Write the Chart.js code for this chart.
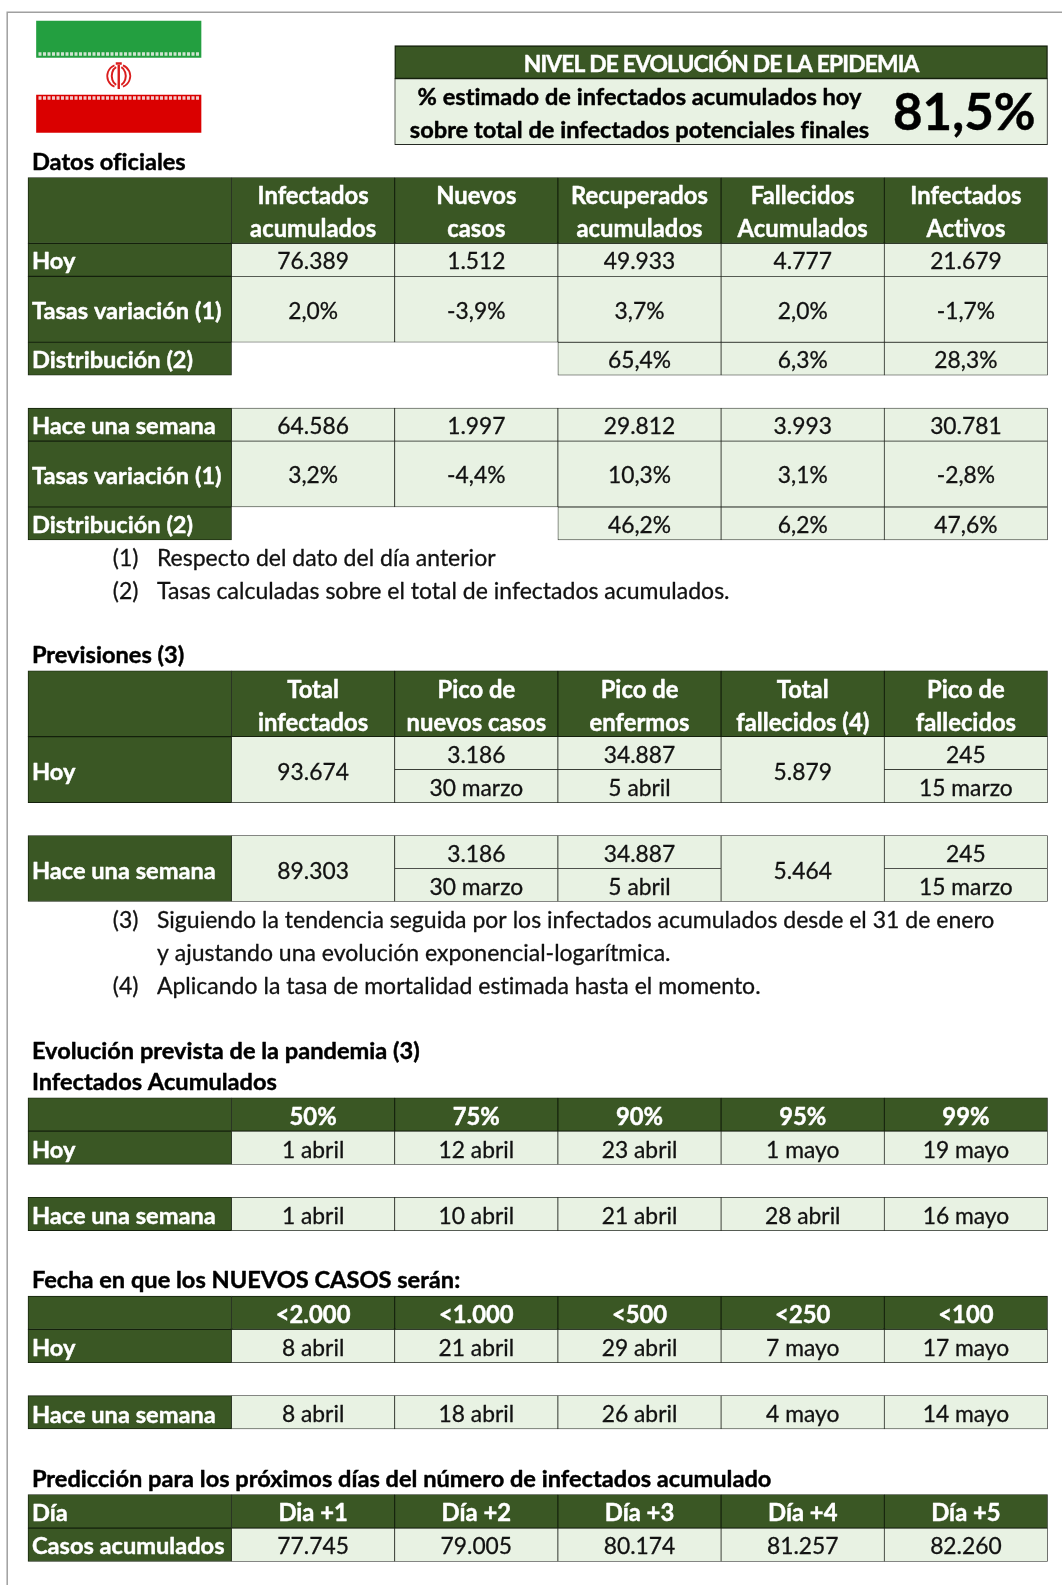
<!DOCTYPE html>
<html lang="es"><head><meta charset="utf-8">
<script src="https://cdn.jsdelivr.net/npm/chart.js@4/dist/chart.umd.js"></script>
<style>html,body{margin:0;padding:0;background:#fff}canvas{display:block;filter:blur(.35px)}</style>
</head><body><canvas id="c" width="1062" height="1585"></canvas>
<script>
// ---- table contents ----
const bannerTitle = 'NIVEL DE EVOLUCIÓN DE LA EPIDEMIA';
const bannerLines = ['% estimado de infectados acumulados hoy','sobre total de infectados potenciales finales'];
const bannerValue = '81,5%';
const officialHeadA = ['Infectados','Nuevos','Recuperados','Fallecidos','Infectados'];
const officialHeadB = ['acumulados','casos','acumulados','Acumulados','Activos'];
const todayValues = ['76.389','1.512','49.933','4.777','21.679'];
const todayRates = ['2,0%','-3,9%','3,7%','2,0%','-1,7%'];
const todayShare = ['','','65,4%','6,3%','28,3%'];
const weekValues = ['64.586','1.997','29.812','3.993','30.781'];
const weekRates = ['3,2%','-4,4%','10,3%','3,1%','-2,8%'];
const weekShare = ['','','46,2%','6,2%','47,6%'];
const forecastHeadA = ['Total','Pico de','Pico de','Total','Pico de'];
const forecastHeadB = ['infectados','nuevos casos','enfermos','fallecidos (4)','fallecidos'];
const forecastTodayTop = ['93.674','3.186','34.887','5.879','245'];
const forecastTodayLow = ['','30 marzo','5 abril','','15 marzo'];
const forecastWeekTop = ['89.303','3.186','34.887','5.464','245'];
const forecastWeekLow = ['','30 marzo','5 abril','','15 marzo'];
const pctHead = ['50%','75%','90%','95%','99%'];
const pctToday = ['1 abril','12 abril','23 abril','1 mayo','19 mayo'];
const pctWeek = ['1 abril','10 abril','21 abril','28 abril','16 mayo'];
const newHead = ['<2.000','<1.000','<500','<250','<100'];
const newToday = ['8 abril','21 abril','29 abril','7 mayo','17 mayo'];
const newWeek = ['8 abril','18 abril','26 abril','4 mayo','14 mayo'];
const dayHead = ['Dia +1','Día +2','Día +3','Día +4','Día +5'];
const dayCases = ['77.745','79.005','80.174','81.257','82.260'];
const notesA = [['(1)','Respecto del dato del día anterior'],['(2)','Tasas calculadas sobre el total de infectados acumulados.']];
const notesB = [['(3)','Siguiendo la tendencia seguida por los infectados acumulados desde el 31 de enero'],['','y ajustando una evolución exponencial-logarítmica.'],['(4)','Aplicando la tasa de mortalidad estimada hasta el momento.']];

// ---- layout: x in column widths, y in sheet rows ----
const COL_PX = 163.2, ROW_PX = 32.95, X0_PX = 28, Y0_PX = 177.5, W = 1062, H = 1585;
const LABEL_COLS = 1.247;
const DARK = '#3A5724', LIGHT = '#E8F2E3', EDGE_D = '#14200c', EDGE_L = '#262a24';
const FONT = 'Lato, Carlito, sans-serif';
const colC = i => LABEL_COLS + i + .5;

const labelCells = [], headCells = [], valueCells = [], texts = [];
const put = (t, x, y, size, bold, color, align, spacing) => texts.push({t, x, y, size, bold, color, align: align || 'center', spacing: spacing || 0});
const LABEL_X = .024, HEAD = 23.6, BODY = 22.8, NOTE = 23;
function label(t, r0, r1) {
  labelCells.push({x: LABEL_COLS / 2, y: [r0, r1]});
  if (t) put(t, LABEL_X, (r0 + r1) / 2, HEAD, true, '#fff', 'left');
}
function head(lines, r0, r1) {
  lines[0].forEach((_, i) => {
    headCells.push({x: colC(i), y: [r0, r1]});
    lines.forEach((l, k) => put(l[i], colC(i), r0 + k + .5, 23.8, true, '#fff'));
  });
}
function body(vals, r0, r1) {
  vals.forEach((v, i) => {
    if (!v) return;
    valueCells.push({x: colC(i), y: [r0, r1]});
    put(v, colC(i), (r0 + r1) / 2, BODY, false, '#111');
  });
}
const forOne = (v, i) => { const a = ['', '', '', '', '']; a[i] = v; return a; };
function split(top, low, r0) {
  top.forEach((v, i) => {
    if (low[i]) { body(forOne(v, i), r0, r0 + 1); body(forOne(low[i], i), r0 + 1, r0 + 2); }
    else body(forOne(v, i), r0, r0 + 2);
  });
}
function section(t, r) { put(t, LABEL_X, r + .47, HEAD, true, '#000', 'left'); }
function notes(list, r) {
  list.forEach((n, k) => {
    if (n[0]) put(n[0], .52, r + k + .5, NOTE, false, '#111', 'left');
    put(n[1], .79, r + k + .5, NOTE, false, '#111', 'left');
  });
}

// official data
section('Datos oficiales', -1);
label('', 0, 2); head([officialHeadA, officialHeadB], 0, 2);
label('Hoy', 2, 3); body(todayValues, 2, 3);
label('Tasas variación (1)', 3, 5); body(todayRates, 3, 5);
label('Distribución (2)', 5, 6); body(todayShare, 5, 6);
label('Hace una semana', 7, 8); body(weekValues, 7, 8);
label('Tasas variación (1)', 8, 10); body(weekRates, 8, 10);
label('Distribución (2)', 10, 11); body(weekShare, 10, 11);
notes(notesA, 11);
// forecast
section('Previsiones (3)', 13.96);
label('', 14.97, 16.97); head([forecastHeadA, forecastHeadB], 14.97, 16.97);
label('Hoy', 16.97, 18.97); split(forecastTodayTop, forecastTodayLow, 16.97);
label('Hace una semana', 19.97, 21.97); split(forecastWeekTop, forecastWeekLow, 19.97);
notes(notesB, 21.97);
// evolution
section('Evolución prevista de la pandemia (3)', 25.97);
section('Infectados Acumulados', 26.92);
label('', 27.93, 28.94); head([pctHead], 27.93, 28.94);
label('Hoy', 28.94, 29.95); body(pctToday, 28.94, 29.95);
label('Hace una semana', 30.95, 31.96); body(pctWeek, 30.95, 31.96);
section('Fecha en que los NUEVOS CASOS serán:', 32.93);
label('', 33.95, 34.96); head([newHead], 33.95, 34.96);
label('Hoy', 34.96, 35.97); body(newToday, 34.96, 35.97);
label('Hace una semana', 36.97, 37.98); body(newWeek, 36.97, 37.98);
section('Predicción para los próximos días del número de infectados acumulado', 38.98);
label('Día', 39.97, 40.99); head([dayHead], 39.97, 40.99);
label('Casos acumulados', 40.99, 42); body(dayCases, 40.99, 42);

// banner
const bannerC = LABEL_COLS + 3;
const bannerCellsDark = [{x: bannerC, y: [-4, -3]}];
const bannerCellsLight = [{x: bannerC, y: [-3, -1]}];
put(bannerTitle, bannerC, -3.5, 22.8, true, '#fff', 'center', -0.85);
put(bannerLines[0], bannerC - .5, -2.5, HEAD, true, '#000');
put(bannerLines[1], bannerC - .5, -1.5, HEAD, true, '#000');
put(bannerValue, bannerC + 1.49, -2, 51, true, '#000');

// flag
const flagC = (118.75 - X0_PX) / COL_PX, flagW = 164.5;
const toRow = px => (px - Y0_PX) / ROW_PX;
const flagGreen = [{x: flagC, y: [toRow(21), toRow(57.5)]}];
const flagRed = [{x: flagC, y: [toRow(95), toRow(132.5)]}];

const bar = (label, data, color, edge, px, bw) => ({
  label, data, backgroundColor: color, borderColor: edge, borderWidth: bw, borderSkipped: false,
  grouped: false, barPercentage: 200, categoryPercentage: 1, barThickness: px, maxBarThickness: px
});
const decorations = {
  id: 'tableText',
  afterDatasetsDraw(chart) {
    const {ctx, scales: {x, y}} = chart;
    ctx.save();
    // page frame
    ctx.strokeStyle = '#a0a0a0'; ctx.lineWidth = 1.5;
    ctx.beginPath(); ctx.moveTo(7.2, H); ctx.lineTo(7.2, 12.2); ctx.lineTo(W, 12.2); ctx.stroke();
    // flag bands
    ctx.lineWidth = 3.5; ctx.setLineDash([3, 1.5]);
    const fx0 = x.getPixelForValue(flagC) - flagW / 2, fx1 = fx0 + flagW;
    ctx.strokeStyle = '#cfe3cf';
    ctx.beginPath(); ctx.moveTo(fx0 + 2, y.getPixelForValue(toRow(54))); ctx.lineTo(fx1 - 2, y.getPixelForValue(toRow(54))); ctx.stroke();
    ctx.strokeStyle = '#f3c9c9';
    ctx.beginPath(); ctx.moveTo(fx0 + 2, y.getPixelForValue(toRow(98))); ctx.lineTo(fx1 - 2, y.getPixelForValue(toRow(98))); ctx.stroke();
    ctx.setLineDash([]);
    // flag emblem
    const ex = x.getPixelForValue(flagC), ey = y.getPixelForValue(toRow(76));
    ctx.strokeStyle = '#DA1E1E';
    [[11.5, 11.5, 1.8], [7, 9.5, 2]].forEach(([rx, ry, lw]) => {
      ctx.lineWidth = lw;
      [-1, 1].forEach(s => {
        ctx.beginPath();
        if (s < 0) ctx.ellipse(ex, ey, rx, ry, 0, Math.PI * .62, Math.PI * 1.38);
        else ctx.ellipse(ex, ey, rx, ry, 0, -Math.PI * .38, Math.PI * .38);
        ctx.stroke();
      });
    });
    ctx.lineWidth = 2.4;
    ctx.beginPath(); ctx.moveTo(ex, ey - 11); ctx.lineTo(ex, ey + 13); ctx.moveTo(ex - 3, ey - 12.5); ctx.lineTo(ex + 3, ey - 12.5); ctx.stroke();
    // text
    ctx.textBaseline = 'middle'; ctx.lineJoin = 'round';
    texts.forEach(d => {
      ctx.font = (d.bold ? 'bold ' : '') + d.size + 'px ' + FONT;
      ctx.letterSpacing = (d.spacing || 0.01) + 'px';
      ctx.fillStyle = d.color; ctx.strokeStyle = d.color; ctx.textAlign = d.align;
      ctx.lineWidth = d.bold ? .45 : .3;
      const px = x.getPixelForValue(d.x), py = y.getPixelForValue(d.y) + (d.y >= 14.9 && d.y < 38 ? 2.8 : 2);
      ctx.strokeText(d.t, px, py);
      ctx.fillText(d.t, px, py);
    });
    ctx.restore();
  }
};
new Chart(document.getElementById('c'), {
  type: 'bar',
  data: {datasets: [
    bar('Rótulos', labelCells, DARK, EDGE_D, LABEL_COLS * COL_PX, .9),
    bar('Cabeceras', headCells, DARK, EDGE_D, COL_PX, .9),
    bar('Titular', bannerCellsDark, DARK, EDGE_D, 4 * COL_PX, 1.3),
    bar('Titular valor', bannerCellsLight, LIGHT, EDGE_L, 4 * COL_PX, 1),
    bar('Valores', valueCells, LIGHT, EDGE_L, COL_PX, .75),
    bar('Bandera verde', flagGreen, '#239F40', '#239F40', flagW, 0),
    bar('Bandera roja', flagRed, '#DA0000', '#DA0000', flagW, 0)
  ]},
  options: {
    responsive: false, animation: false, devicePixelRatio: 1,
    layout: {padding: 0},
    plugins: {legend: {display: false}, tooltip: {enabled: false}, title: {display: false}},
    scales: {
      x: {type: 'linear', display: false, offset: false, min: -X0_PX / COL_PX, max: (W - X0_PX) / COL_PX, grid: {display: false}},
      y: {type: 'linear', display: false, offset: false, reverse: true, min: -Y0_PX / ROW_PX, max: (H - Y0_PX) / ROW_PX, grid: {display: false}}
    }
  },
  plugins: [decorations]
});
</script></body></html>
